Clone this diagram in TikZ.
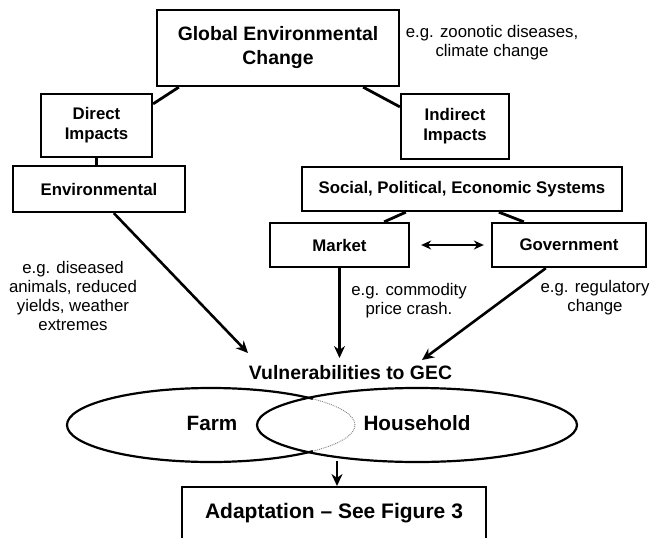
\documentclass[tikz,border=0pt]{standalone}
\usepackage{fontspec}
\setmainfont{Liberation Sans}
\usetikzlibrary{arrows.meta,calc,shapes.geometric}

% font sizes used in the chart
\newcommand\ftTitle{\fontsize{19.4}{24}\bfseries\selectfont}
\newcommand\ftBox{\fontsize{16.8}{20}\bfseries\selectfont}
\newcommand\ftNote{\fontsize{16.8}{19}\selectfont}
\newcommand\ftOval{\fontsize{20.7}{24}\bfseries\selectfont}
\newcommand\ftAdapt{\fontsize{21}{24}\bfseries\selectfont}

\tikzset{
  boxnode/.style={draw, line width=2.3pt, inner sep=0pt, align=center, font=\ftBox},
  link/.style={line width=2.8pt},
  arrowlink/.style={line width=2.6pt, -{Stealth[length=12pt,width=11pt]}},
  twoway/.style={line width=2.6pt, {Stealth[length=10pt,width=9pt]}-{Stealth[length=10pt,width=9pt]}},
  note/.style={align=center, font=\ftNote, inner sep=0pt},
  oval/.style={ellipse, inner sep=0pt, font=\ftOval},
}

\begin{document}
\begin{tikzpicture}[x=1pt,y=-1pt]
  \clip (0,0) rectangle (651,538);
  \fill[white] (0,0) rectangle (651,538);

  % boxes
  \node[boxnode, font=\ftTitle, minimum width=242pt, minimum height=76pt] (gec) at (278,48) {Global Environmental\\Change};
  \node[boxnode, minimum width=111pt, minimum height=63pt] (direct) at (96.5,125.5) {Direct\\Impacts};
  \node[boxnode, minimum width=172pt, minimum height=46pt] (env) at (99,189) {Environmental};
  \node[boxnode, minimum width=108pt, minimum height=65pt] (indirect) at (455,126.5) {Indirect\\Impacts};
  \node[boxnode, minimum width=320pt, minimum height=44pt] (social) at (462,189) {Social, Political, Economic Systems};
  \node[boxnode, minimum width=139pt, minimum height=44pt] (market) at (339.5,245) {Market};
  \node[boxnode, minimum width=154pt, minimum height=44pt] (gov) at (569,245) {Government};

  % example notes
  \node[note] (zoon) at (492,43) {e.g. zoonotic diseases,\\climate change};
  \node[note] (dis) at (73,295.5) {e.g. diseased\\animals, reduced\\yields, weather\\extremes};
  \node[note] (com) at (409,301) {e.g. commodity\\price crash.};
  \node[note] (reg) at (595,297.5) {e.g. regulatory\\change};

  % vulnerabilities
  \node[font=\ftTitle, inner sep=0pt] (vuln) at (350.5,373) {Vulnerabilities to GEC};

  % farm and household ovals
  \node[oval, minimum width=288pt, minimum height=74pt] (farm) at (211,425) {};
  \node[font=\ftOval] (farmtxt) at (212,423) {Farm};
  \node[oval, draw, line width=2.2pt, minimum width=320pt, minimum height=74pt] (house) at (417,425) {};
  \node[font=\ftOval] (housetxt) at (417,423) {Household};
  \draw[line width=2.2pt] (farm.center) ++(45:144 and 37)
        arc[start angle=45, end angle=315, x radius=144, y radius=37];
  \draw[gray, densely dotted, line width=0.9pt] (farm.center) ++(-45:144 and 37)
        arc[start angle=-45, end angle=45, x radius=144, y radius=37];

  % adaptation box (runs past the lower edge)
  \node[draw, line width=2.3pt, anchor=north, minimum width=304pt, inner xsep=0pt, inner ysep=0pt,
        text height=31.5pt, text depth=45pt, font=\ftAdapt] (adapt) at (334,486) {Adaptation -- See Figure 3};

  % connectors
  \draw[link] ($(gec.south west)+(23,0)$) -- ($(direct.north east)+(0,11)$);
  \draw[link] ($(gec.south east)+(-37,0)$) -- ($(indirect.north west)+(0,14)$);
  \draw[link] (direct.south) -- (direct.south |- env.north);
  \draw[link] ($(indirect.south)+(3,0)$) -- ($(indirect.south)+(3,0)$ |- social.north);
  \draw[link] ($(social.south west)+(105,0)$) -- ($(market.north east)+(-26,0)$);
  \draw[link] ($(social.south west)+(198,0)$) -- ($(gov.north west)+(33,0)$);
  \draw[twoway] ($(market.east)+(11,0)$) -- ($(gov.west)+(-7,0)$);

  \coordinate (tipL) at (248,353);
  \coordinate (tipM) at (339.5,358);
  \coordinate (tipR) at (422,360);
  \draw[arrowlink] ($(env.south west)+(102,0)$) -- (tipL);
  \draw[arrowlink] (market.south) -- (tipM);
  \draw[arrowlink] ($(gov.south west)+(55,0)$) -- (tipR);

  \coordinate (ovl) at (337,461);
  \draw[arrowlink] (ovl) -- (ovl |- adapt.north);
\end{tikzpicture}
\end{document}
